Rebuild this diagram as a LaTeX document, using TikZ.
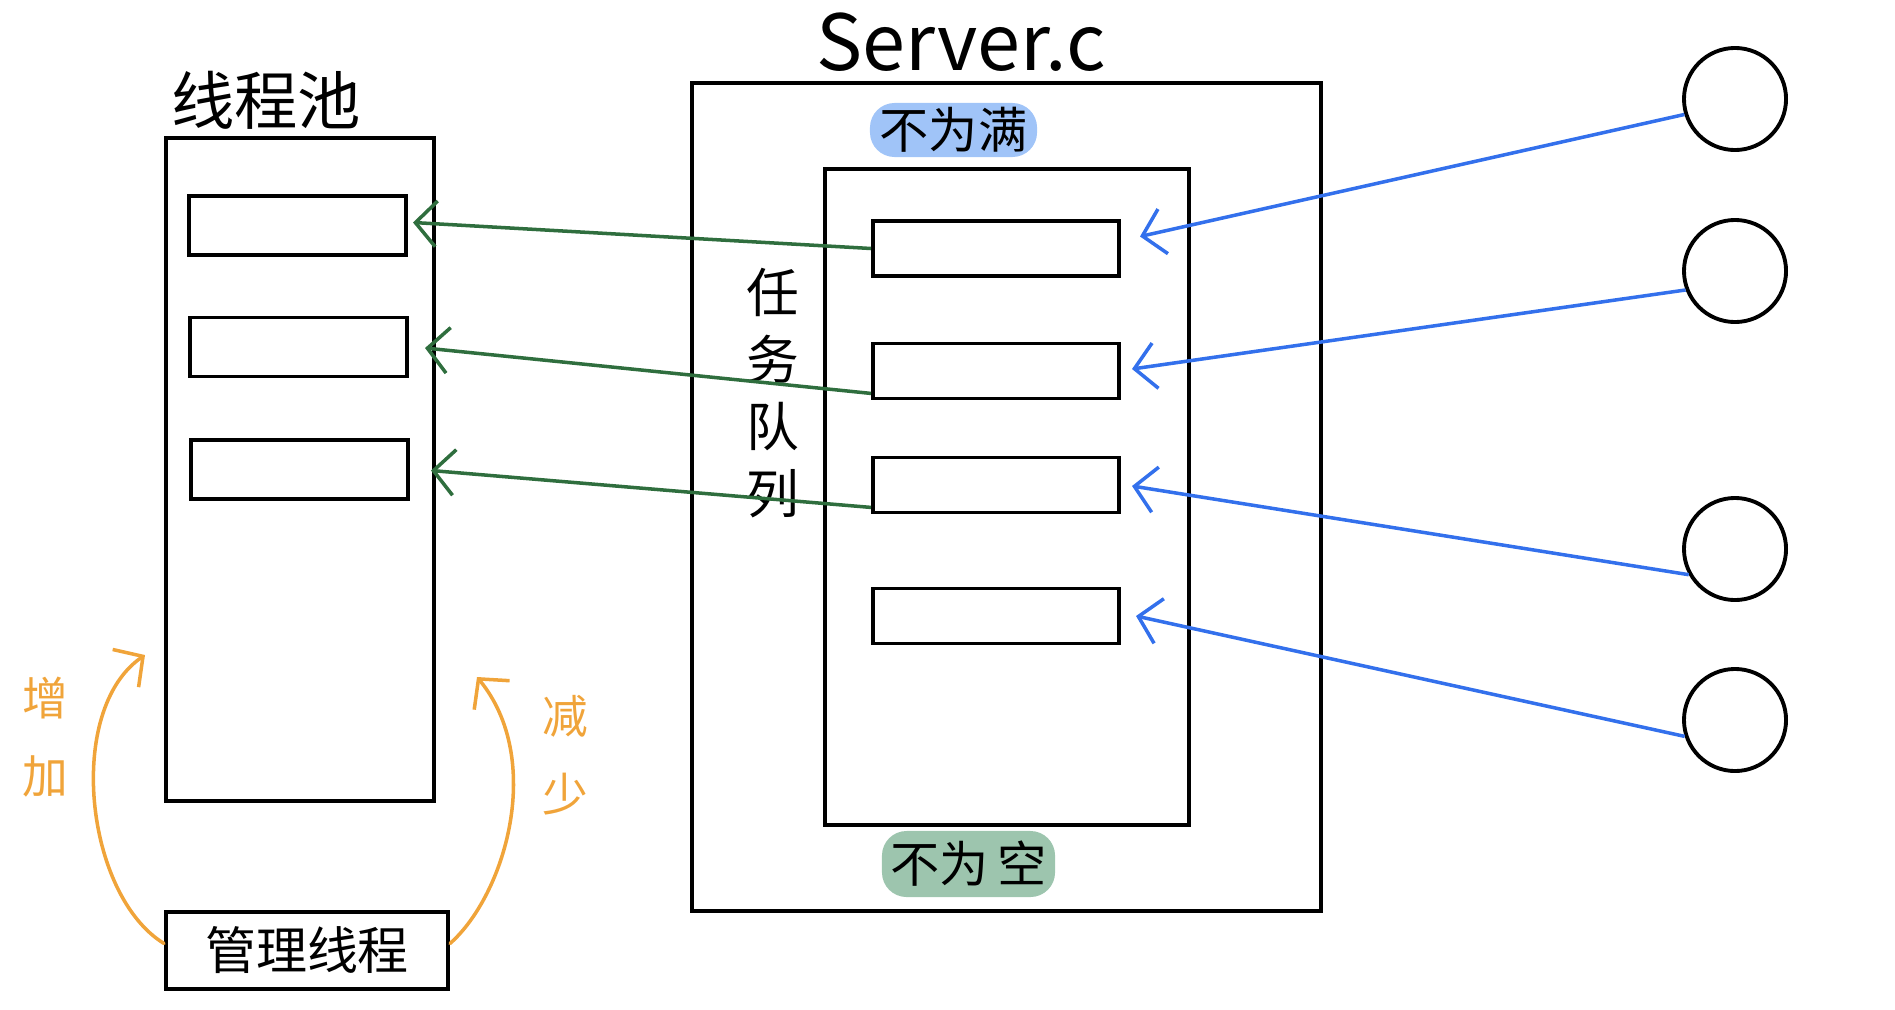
\documentclass[tikz,border=0pt]{standalone}
\usepackage{fontspec}
\newfontfamily\cjk{Noto Sans CJK SC}
\usetikzlibrary{arrows.meta}
\definecolor{penblue}{HTML}{3370EC}
\definecolor{pengreen}{HTML}{2F6E3E}
\definecolor{penorange}{HTML}{F0A43A}
\definecolor{markblue}{HTML}{A0C4F8}
\definecolor{markgreen}{HTML}{9DC5AE}

\begin{document}
\begin{tikzpicture}[x=0.01cm, y=-0.01cm, font=\cjk,
		box/.style={draw, line width=1.1pt, inner sep=0pt},
		slot/.style={box, minimum width=2.17cm, minimum height=0.59cm},
		qslot/.style={box, minimum width=2.46cm, minimum height=0.55cm},
		client/.style={draw, circle, line width=1.1pt, minimum size=1.02cm, inner sep=0pt},
		highlight/.style={rounded corners=7pt, inner sep=0pt, font=\cjk\fontsize{14}{16}\selectfont},
		barb/.style={-{Straight Barb[length=6pt,width=13pt]}, line width=1pt},
		blueline/.style={barb, color=penblue},
		greenline/.style={barb, color=pengreen},
		orangeline/.style={barb, color=penorange, line cap=round}]
			%%%%% START %%%%%
			\useasboundingbox (0,0) rectangle (1895,1009);
			
			% thread pool
			\node[box, minimum width=2.68cm, minimum height=6.63cm] (pool) at (300,469.5) {};
			\node[font=\cjk\fontsize{18}{20}\selectfont] (pooltitle) at (266,100) {线程池};
			\node[slot] (p1) at (297.5,225.5) {};
			\node[slot] (p2) at (298.5,347) {};
			\node[slot] (p3) at (299.5,469.5) {};
			
			\node[box, minimum width=2.82cm, minimum height=0.77cm, font=\cjk\fontsize{14.5}{16}\selectfont] (manager) at (307,950.5) {管理线程};
			
			% server
			\node[box, minimum width=6.29cm, minimum height=8.28cm] (server) at (1006.5,497) {};
			\node[font=\cjk\fontsize{22}{24}\selectfont] (servertitle) at (961,42) {Server.c};
			\node[box, minimum width=3.64cm, minimum height=6.56cm] (queue) at (1007,497) {};
			\node[align=center, font=\cjk\fontsize{15}{19}\selectfont] (queuetitle) at (773,393) {任\\务\\队\\列};
			
			\node[highlight, fill=markblue, minimum width=1.67cm, minimum height=0.54cm] (notfull) at (953.5,130) {不为满};
			\node[highlight, fill=markgreen, minimum width=1.73cm, minimum height=0.66cm] (notempty) at (968.5,864) {不为\,空};
			
			\node[qslot] (q1) at (996,248.5) {};
			\node[qslot] (q2) at (996,371) {};
			\node[qslot] (q3) at (996,485) {};
			\node[qslot] (q4) at (996,616) {};
			
			% clients
			\node[client] (c1) at (1735,99) {};
			\node[client] (c2) at (1735,271) {};
			\node[client] (c3) at (1735,549) {};
			\node[client] (c4) at (1735,720) {};
			
			\draw[blueline] (c1.197) -- ([shift={(19,-12)}]q1.east);
			\draw[blueline] (c2.201) -- ([shift={(11,-2)}]q2.east);
			\draw[blueline] (c3.209) -- ([shift={(11,1)}]q3.east);
			\draw[blueline] (c4.198) -- ([shift={(15,0)}]q4.east);
			
			\draw[greenline] (q1.west) -- ([shift={(5,-3)}]p1.east);
			\draw[greenline] ([yshift=2pt]q2.south west) -- ([shift={(16,1)}]p2.east);
			\draw[greenline] ([yshift=2pt]q3.south west) -- ([shift={(21,1)}]p3.east);
			
			% add / remove threads
			\draw[orangeline] ([yshift=2pt]manager.west) .. controls (85,895) and (65,710) .. (145,655);
			\draw[orangeline] ([yshift=2pt]manager.east) .. controls (505,895) and (545,760) .. (477,677);
			\node[align=center, text=penorange, font=\cjk\fontsize{13}{22}\selectfont] (addlabel) at (45,737) {增\\加};
			\node[align=center, text=penorange, font=\cjk\fontsize{13}{22}\selectfont] (removelabel) at (565,755) {减\\少};
			
			%%%%% END %%%%%
		\end{tikzpicture}
\end{document}
